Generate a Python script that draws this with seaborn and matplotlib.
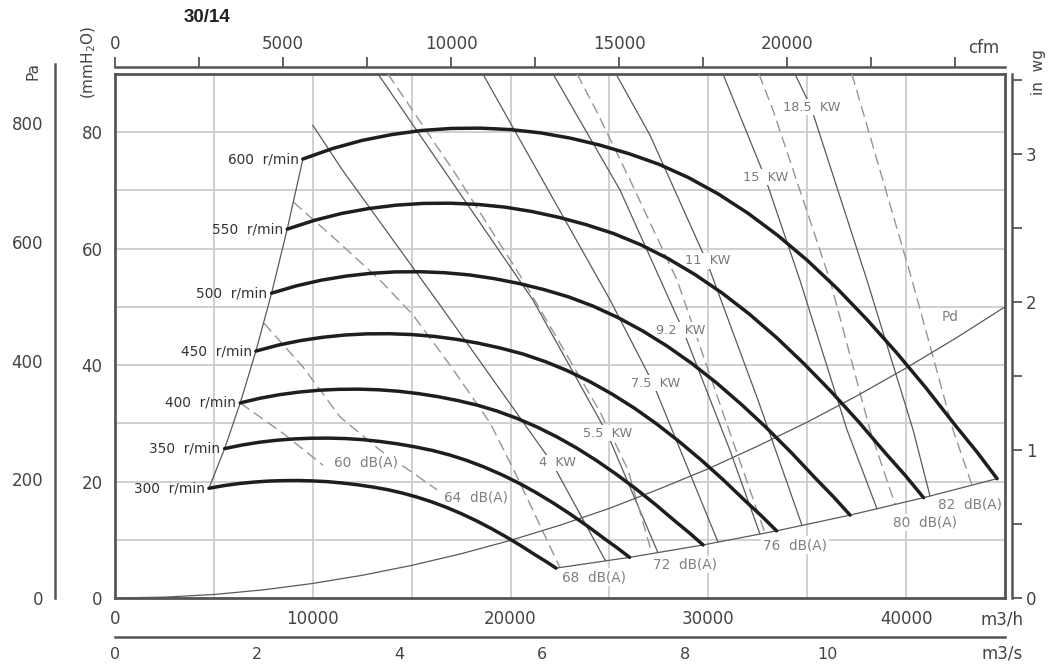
import matplotlib
matplotlib.use("Agg")
import matplotlib.pyplot as plt
import seaborn as sns
import numpy as np

# ---------------- data ----------------
# fan curves: flow (m3/h) and static pressure (mmH2O) per speed
q300 = [4750, 5500, 6250, 7000, 7750, 8500, 9250, 10000, 10750, 11500, 12250, 13000, 13750,
        14500, 15250, 16000, 16750, 17500, 18250, 19000, 19750, 20500, 21250, 21800, 22300]
p300 = [18.85, 19.30, 19.65, 19.90, 20.08, 20.16, 20.18, 20.11, 19.98, 19.75, 19.45, 19.08, 18.63,
        18.05, 17.35, 16.53, 15.58, 14.50, 13.30, 11.98, 10.55, 9.03, 7.40, 6.25, 5.13]
q350 = [5542, 6417, 7292, 8167, 9042, 9917, 10792, 11667, 12542, 13417, 14292, 15167, 16042,
        16917, 17792, 18667, 19542, 20417, 21292, 22167, 23042, 23917, 24792, 25433, 26017]
p350 = [25.66, 26.27, 26.75, 27.09, 27.32, 27.44, 27.46, 27.38, 27.19, 26.88, 26.47, 25.96, 25.35,
        24.57, 23.62, 22.49, 21.20, 19.74, 18.10, 16.30, 14.36, 12.28, 10.07, 8.51, 6.98]
q400 = [6333, 7333, 8333, 9333, 10333, 11333, 12333, 13333, 14333, 15333, 16333, 17333, 18333,
        19333, 20333, 21333, 22333, 23333, 24333, 25333, 26333, 27333, 28333, 29067, 29733]
p400 = [33.51, 34.31, 34.93, 35.38, 35.69, 35.84, 35.87, 35.76, 35.51, 35.11, 34.58, 33.91, 33.11,
        32.09, 30.84, 29.38, 27.69, 25.78, 23.64, 21.29, 18.76, 16.04, 13.16, 11.11, 9.11]
q450 = [7125, 8250, 9375, 10500, 11625, 12750, 13875, 15000, 16125, 17250, 18375, 19500, 20625,
        21750, 22875, 24000, 25125, 26250, 27375, 28500, 29625, 30750, 31875, 32700, 33450]
p450 = [42.41, 43.43, 44.21, 44.78, 45.17, 45.37, 45.39, 45.25, 44.94, 44.44, 43.76, 42.92, 41.91,
        40.61, 39.04, 37.18, 35.04, 32.63, 29.93, 26.94, 23.74, 20.31, 16.65, 14.06, 11.53]
q500 = [7917, 9167, 10417, 11667, 12917, 14167, 15417, 16667, 17917, 19167, 20417, 21667, 22917,
        24167, 25417, 26667, 27917, 29167, 30417, 31667, 32917, 34167, 35417, 36333, 37167]
p500 = [52.36, 53.61, 54.58, 55.28, 55.76, 56.01, 56.04, 55.87, 55.49, 54.86, 54.03, 52.99, 51.74,
        50.14, 48.19, 45.90, 43.26, 40.28, 36.94, 33.26, 29.31, 25.07, 20.56, 17.36, 14.24]
q550 = [8708, 10083, 11458, 12833, 14208, 15583, 16958, 18333, 19708, 21083, 22458, 23833, 25208,
        26583, 27958, 29333, 30708, 32083, 33458, 34833, 36208, 37583, 38958, 39967, 40883]
p550 = [63.36, 64.87, 66.05, 66.89, 67.47, 67.77, 67.81, 67.60, 67.14, 66.38, 65.37, 64.11, 62.60,
        60.67, 58.31, 55.54, 52.35, 48.74, 44.70, 40.25, 35.46, 30.33, 24.87, 21.01, 17.23]
q600 = [9500, 11000, 12500, 14000, 15500, 17000, 18500, 20000, 21500, 23000, 24500, 26000, 27500,
        29000, 30500, 32000, 33500, 35000, 36500, 38000, 39500, 41000, 42500, 43600, 44600]
p600 = [75.4, 77.2, 78.6, 79.6, 80.3, 80.65, 80.7, 80.45, 79.9, 79.0, 77.8, 76.3, 74.5,
        72.2, 69.4, 66.1, 62.3, 58.0, 53.2, 47.9, 42.2, 36.1, 29.6, 25.0, 20.5]
speed_labels = ["300  r/min", "350  r/min", "400  r/min", "450  r/min",
                "500  r/min", "550  r/min", "600  r/min"]

# dynamic pressure line
pd_q = [0, 2500, 5000, 7500, 10000, 12500, 15000, 17500, 20000, 22500, 25000, 27500,
        30000, 32500, 35000, 37500, 40000, 42500, 45000]
pd_p = [0, 0.15, 0.6, 1.4, 2.5, 3.9, 5.6, 7.6, 9.9, 12.5, 15.4, 18.7,
        22.2, 26.1, 30.2, 34.7, 39.5, 44.6, 50.0]

# absorbed power lines
kw4_q = [10000, 11500, 16500, 22100, 24800]
kw4_p = [81.2, 73.5, 50.0, 23.2, 6.4]
kw55_q = [13300, 21130, 24880, 27450]
kw55_p = [90, 51.2, 28.3, 7.8]
kw75_q = [18600, 25030, 27200, 30490]
kw75_p = [90, 51.2, 36.9, 9.6]
kw92_q = [22150, 25530, 28720, 31090, 32610]
kw92_p = [90, 70.1, 46.0, 25.4, 11.0]
kw11_q = [25330, 27050, 29930, 32510, 34735]
kw11_p = [90, 79.5, 57.7, 34.0, 12.5]
kw15_q = [30740, 32860, 34630, 37010, 38530]
kw15_p = [90, 72.3, 54.6, 28.9, 15.3]
kw185_q = [34380, 35190, 38020, 40350, 41210]
kw185_p = [90, 84.3, 54.6, 28.9, 17.5]
kw_labels = ["4  KW", "5.5  KW", "7.5  KW", "9.2  KW", "11  KW", "15  KW", "18.5  KW"]
kw_label_q = [22380, 24910, 27340, 28610, 29980, 32910, 35240]
kw_label_p = [23.2, 28.3, 36.9, 46.0, 57.9, 72.3, 84.3]

# sound level lines
db60_q = [6330, 8490, 10520]
db60_p = [33.5, 28.3, 22.8]
db64_q = [7530, 9500, 11380, 13400, 16280]
db64_p = [47.2, 39.7, 31.1, 25.4, 18.6]
db68_q = [9020, 11020, 13400, 15070, 16940, 18960, 20220, 22500]
db68_p = [68.0, 62.0, 54.6, 48.6, 40.0, 30.1, 21.6, 5.2]
db72_q = [13800, 17090, 20630, 24520, 25940, 27150]
db72_p = [90, 73.5, 54.6, 32.0, 22.0, 7.6]
db76_q = [23360, 24320, 26040, 28420, 30690, 32860]
db76_p = [90, 83.8, 71.8, 54.6, 32.3, 11.2]
db80_q = [32560, 33270, 36150, 38170, 39440]
db80_p = [90, 83.8, 54.6, 28.9, 16.1]
db82_q = [37260, 40300, 42370, 43330]
db82_p = [90, 54.6, 28.9, 19.4]
db_labels = ["60  dB(A)", "64  dB(A)", "68  dB(A)", "72  dB(A)", "76  dB(A)", "80  dB(A)", "82  dB(A)"]
db_label_q = [12710, 18230, 24200, 28810, 34380, 40960, 43240]
db_label_p = [23.2, 17.3, 3.6, 5.7, 9.1, 13.0, 16.0]

x_ticks = [0, 5000, 10000, 15000, 20000, 25000, 30000, 35000, 40000, 45000]
x_ticklabels = ["0", "", "10000", "", "20000", "", "30000", "", "40000", ""]
y_ticks = [0, 10, 20, 30, 40, 50, 60, 70, 80, 90]
y_ticklabels = ["0", "", "20", "", "40", "", "60", "", "80", ""]

# ---------------- figure ----------------
sns.set_theme(style="white")
plt.rcParams["font.family"] = ["DejaVu Sans"]

W, H = 1053, 664
fig = plt.figure(figsize=(W / 100, H / 100), dpi=100)
fig.patch.set_facecolor("white")

L, R, T, B = 115, 1005, 74, 598
ax = fig.add_axes([L / W, 1 - B / H, (R - L) / W, (B - T) / H])
ax.set_xlim(0, 45000)
ax.set_ylim(0, 90)

AXC = "#555555"
TXT = "#444444"

ax.set_xticks(x_ticks)
ax.set_xticklabels(x_ticklabels)
ax.set_yticks(y_ticks)
ax.set_yticklabels(y_ticklabels)
ax.grid(True, color="#cdcdcd", lw=1.3)
ax.set_axisbelow(True)
ax.tick_params(axis="both", direction="out", length=6, width=1.3, color=AXC,
               labelsize=12, labelcolor=TXT, pad=3)
for s in ax.spines.values():
    s.set_color(AXC)
    s.set_linewidth(2.0)


def draw(q, p, **kw):
    sns.lineplot(x=q, y=p, ax=ax, sort=False, estimator=None, **kw)


THIN = "#5a5a5a"
DASH = "#959595"

# power lines
for q, p in [(kw4_q, kw4_p), (kw55_q, kw55_p), (kw75_q, kw75_p), (kw92_q, kw92_p),
             (kw11_q, kw11_p), (kw15_q, kw15_p), (kw185_q, kw185_p)]:
    draw(q, p, color=THIN, lw=0.9, zorder=3)

# sound lines
for q, p in [(db60_q, db60_p), (db64_q, db64_p), (db68_q, db68_p), (db72_q, db72_p),
             (db76_q, db76_p), (db80_q, db80_p), (db82_q, db82_p)]:
    draw(q, p, color=DASH, lw=1.0, linestyle=(0, (8, 4)), zorder=3)

# Pd line
draw(pd_q, pd_p, color=THIN, lw=0.9, zorder=3)

curves = [(q300, p300), (q350, p350), (q400, p400), (q450, p450),
          (q500, p500), (q550, p550), (q600, p600)]

# boundary lines through start and end points
draw([c[0][0] for c in curves], [c[1][0] for c in curves], color=THIN, lw=0.9, zorder=3)
draw([c[0][-1] for c in curves], [c[1][-1] for c in curves], color=THIN, lw=0.9, zorder=3)

# fan curves
for (q, p), lab in zip(curves, speed_labels):
    draw(q, p, color="#1e1e1e", lw=2.5, zorder=6)
    ax.annotate(lab, xy=(q[0], p[0]), xytext=(-3, 0), textcoords="offset points",
                ha="right", va="center", fontsize=9.8, color="#333333", zorder=7)

box = dict(boxstyle="square,pad=0.12", fc="white", ec="none")
for lab, q, p in zip(kw_labels, kw_label_q, kw_label_p):
    ax.text(q, p, lab, ha="center", va="center", fontsize=9.3, color="#7a7a7a",
            bbox=box, zorder=5)
for lab, q, p in zip(db_labels, db_label_q, db_label_p):
    ax.text(q, p, lab, ha="center", va="center", fontsize=9.8, color="#808080",
            bbox=box, zorder=5)
ax.text(42200, 48.2, "Pd", ha="center", va="center", fontsize=9.8, color="#808080", zorder=5)

ax.set_xlabel("")
ax.set_ylabel("")

# ---------------- auxiliary scales ----------------
def clean(a, keep):
    a.patch.set_alpha(0)
    for k, s in a.spines.items():
        s.set_visible(k == keep)
        s.set_color(AXC)
        s.set_linewidth(1.8)


# Pa scale (left)
axpa = fig.add_axes([55 / W, 1 - B / H, 0.01, (900 / 9.80665) * (B - T) / 90 / H])
axpa.set_ylim(0, 900)
clean(axpa, "left")
axpa.set_xticks([])
axpa.set_yticks([0, 100, 200, 300, 400, 500, 600, 700, 800, 900])
axpa.set_yticklabels(["0", "", "200", "", "400", "", "600", "", "800", ""])
axpa.tick_params(axis="y", direction="out", length=7, width=1.3, color=AXC,
                 labelsize=12, labelcolor=TXT, pad=1.5)

# in wg scale (right)
axin = fig.add_axes([1012 / W - 0.01, 1 - B / H, 0.01, (B - T) / H])
axin.set_ylim(0, 90 / 25.4)
clean(axin, "right")
axin.set_xticks([])
axin.yaxis.tick_right()
axin.set_yticks([0, 0.5, 1, 1.5, 2, 2.5, 3, 3.5])
axin.set_yticklabels(["0", "", "1", "", "2", "", "3", ""])
axin.tick_params(axis="y", direction="out", length=7, width=1.3, color=AXC,
                 labelsize=12, labelcolor=TXT, pad=3)

# cfm scale (top)
axcfm = fig.add_axes([L / W, 1 - 67 / H - 0.01, (R - L) / W, 0.01])
axcfm.set_xlim(0, 45000 / 1.699)
clean(axcfm, "top")
axcfm.set_yticks([])
axcfm.xaxis.tick_top()
axcfm.set_xticks([0, 2500, 5000, 7500, 10000, 12500, 15000, 17500, 20000, 22500, 25000])
axcfm.set_xticklabels(["0", "", "5000", "", "10000", "", "15000", "", "20000", "", ""])
axcfm.tick_params(axis="x", direction="out", length=7, width=1.3, color=AXC,
                  labelsize=12, labelcolor=TXT, pad=3)

# m3/s scale (bottom)
axs = fig.add_axes([L / W, 1 - 637 / H, (R - L) / W, 0.01])
axs.set_xlim(0, 45000 / 3600)
clean(axs, "bottom")
axs.set_yticks([])
axs.set_xticks([0, 1, 2, 3, 4, 5, 6, 7, 8, 9, 10, 11, 12])
axs.set_xticklabels(["0", "", "2", "", "4", "", "6", "", "8", "", "10", "", ""])
axs.tick_params(axis="x", direction="out", length=6, width=1.3, color=AXC,
                labelsize=11.5, labelcolor=TXT, pad=1)

# unit texts
fig.text(984 / W, 1 - 48 / H, "cfm", ha="center", va="center", fontsize=12, color=TXT)
fig.text(1002 / W, 1 - 620 / H, "m3/h", ha="center", va="center", fontsize=12, color=TXT)
fig.text(1002 / W, 1 - 653 / H, "m3/s", ha="center", va="center", fontsize=12, color=TXT)
fig.text(1038 / W, 1 - 72 / H, "in  wg", ha="center", va="center", fontsize=11,
         color=TXT, rotation=90)
fig.text(33 / W, 1 - 71 / H, "Pa", ha="center", va="center", fontsize=11,
         color=TXT, rotation=90)
fig.text(89 / W, 1 - 62 / H, r"(mmH$_2$O)", ha="center", va="center", fontsize=11,
         color=TXT, rotation=90)
fig.text(207 / W, 1 - 18 / H, "30/14", ha="center", va="center", fontsize=13.5,
         fontweight="bold", color="#222222", family=["Liberation Sans", "DejaVu Sans"])

fig.savefig("out.png", dpi=100, facecolor="white")
